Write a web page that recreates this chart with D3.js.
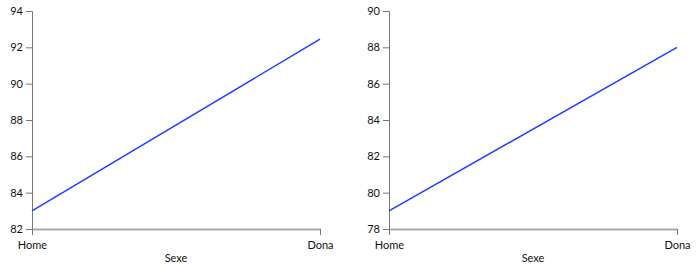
<!DOCTYPE html>
<html>
<head>
<meta charset="utf-8">
<script src="https://cdn.jsdelivr.net/npm/d3@7"></script>
<style>
  body { margin: 0; background: #fff; }
  svg text { font-family: Lato, "Open Sans", sans-serif; font-size: 11px; fill: #111; }
</style>
</head>
<body>
<div id="vis"></div>
<script>
// data
let categories = ["Home", "Dona"];
let leftValues = [83, 92.45];
let rightValues = [79, 88];
let leftTicks = [82, 84, 86, 88, 90, 92, 94];
let rightTicks = [78, 80, 82, 84, 86, 88, 90];
let xLabel = "Sexe";

let svg = d3.select('#vis')
  .append('svg')
  .attr('width', 700)
  .attr('height', 268);

let height = 218; // 11 -> 229

function drawPanel(left, width, values, ticks) {
  let g = svg.append('g')
    .attr('transform', 'translate(' + left + ',11)');

  let xScale = d3.scalePoint().domain(categories).range([0, width]);
  let yScale = d3.scaleLinear().domain([ticks[0], ticks[ticks.length - 1]]).range([height, 0]);

  // y axis
  let yAxis = g.append('g')
    .call(d3.axisLeft(yScale).tickValues(ticks).tickSize(6).tickPadding(3));
  yAxis.selectAll('path, line').attr('stroke', '#777');
  yAxis.selectAll('text').style('font-size', '11px');

  // x axis
  let xAxis = g.append('g')
    .attr('transform', 'translate(0,' + height + ')')
    .call(d3.axisBottom(xScale).tickSize(6).tickPadding(6).tickSizeOuter(0));
  xAxis.select('path.domain').attr('stroke', '#aaa').attr('stroke-width', 2);
  xAxis.selectAll('line').attr('stroke', '#777');
  xAxis.selectAll('text').style('font-size', '11px');

  g.append('text')
    .attr('x', width / 2)
    .attr('y', height + 33)
    .attr('text-anchor', 'middle')
    .text(xLabel);

  let line = d3.line()
    .x((d, i) => xScale(categories[i]))
    .y(d => yScale(d));

  g.append('path')
    .datum(values)
    .attr('d', line)
    .attr('fill', 'none')
    .attr('stroke', '#1f3cff')
    .attr('stroke-width', 1.5);
}

drawPanel(32, 288, leftValues, leftTicks);
drawPanel(389, 288, rightValues, rightTicks);
</script>
</body>
</html>
